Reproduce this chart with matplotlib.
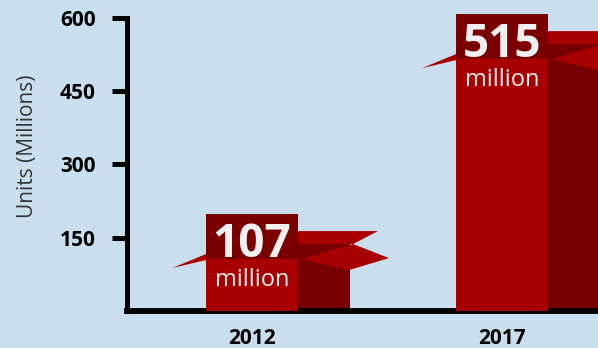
import matplotlib
matplotlib.use('Agg')
import matplotlib.pyplot as plt
from matplotlib.patches import Polygon, Rectangle

plt.rcParams['font.family'] = ['Open Sans', 'DejaVu Sans']

years = ['2012', '2017']
units = [107, 515]
labels = ['107', '515']

bg = '#c9dfee'
red = '#a80000'
dark = '#760000'
box = '#7a0000'

fig = plt.figure(figsize=(5.98, 3.48), dpi=100, facecolor=bg)
ax = fig.add_axes([0.2132, 0.1049, 0.7868, 0.8448])
ax.set_facecolor(bg)

# pixel -> data helpers (250 px per category, 294 px per 600 units)
PX = 1 / 250
PY = 600 / 294
w = 92 * PX


def rel(x0, y0, pts):
    return [(x0 + dx * PX, y0 - dy * PY) for dx, dy in pts]


xs = list(range(len(years)))
for i, v in zip(xs, units):
    fl, fr = i - w / 2, i + w / 2
    # side of the box
    ax.add_patch(Rectangle((fr, 0), 52 * PX, v + 15 * PY, color=dark,
                           lw=0, clip_on=False, zorder=2))
    # back flap
    ax.add_patch(Polygon(rel(fr, v, [(0, -28), (80, -28), (55, -15), (0, -15)]),
                         color=red, lw=0, clip_on=False, zorder=3))
    # side flap
    ax.add_patch(Polygon(rel(fr, v, [(3, 0), (55, -15), (91, -1), (51, 11)]),
                         color=red, lw=0, clip_on=False, zorder=3))
    # left flap
    ax.add_patch(Polygon(rel(fl, v, [(-34, 9), (0, -5), (0, 1)]),
                         color=red, lw=0, clip_on=False, zorder=3))

ax.bar(xs, units, width=w, color=red, zorder=4)
ax.bar(xs, [45 * PY] * len(xs), bottom=units, width=w, color=box,
       zorder=4, clip_on=False)

for i, v, lab in zip(xs, units, labels):
    ax.text(i, v + 2 * PY, lab, ha='center', va='baseline', fontsize=33,
            fontweight='bold', color='#f0f0f0', zorder=5)
    ax.text(i, v - 27 * PY, 'million', ha='center', va='baseline',
            fontsize=17, color='#f0f0f0', zorder=5)

ax.set_xlim(-0.498, -0.498 + 470.5 / 250)
ax.set_ylim(0, 600)
ax.set_yticks([150, 300, 450, 600])
ax.set_xticks(xs)
ax.set_xticklabels(years)

for s in ['top', 'right']:
    ax.spines[s].set_visible(False)
ax.spines['left'].set_linewidth(3.6)
ax.spines['bottom'].set_linewidth(4.2)
ax.spines['left'].set_capstyle('projecting')
ax.spines['bottom'].set_capstyle('projecting')

ax.tick_params(axis='y', length=11, width=3.6, pad=12, labelsize=15)
ax.tick_params(axis='x', length=0, pad=12, labelsize=15)
for t in ax.get_xticklabels() + ax.get_yticklabels():
    t.set_fontweight('bold')

ax.set_ylabel('Units (Millions)', fontsize=15, color='#333333')
ax.yaxis.set_label_coords(-0.19, 0.563)

fig.savefig('out.png', dpi=100, facecolor=bg)
